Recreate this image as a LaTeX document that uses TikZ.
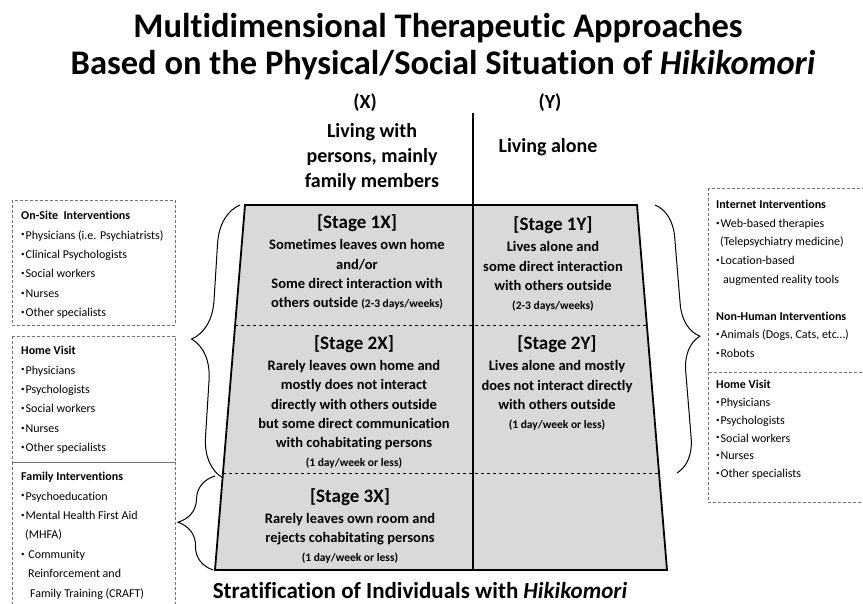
\documentclass[tikz,border=0pt]{standalone}
\usepackage{fontspec}
\setmainfont{Carlito}[Ligatures=NoCommon]
\usetikzlibrary{decorations.pathreplacing,calc}

\newcommand{\itm}{\raisebox{2.2pt}{\fontsize{7}{7}\selectfont\textbullet}\hspace{1pt}}
\newcommand{\stagehead}[1]{{\fontsize{19}{19.3}\selectfont[Stage #1]}\\[2pt]}
\newcommand{\smalltxt}[1]{{\fontsize{11.5}{19.3}\selectfont #1}}

\tikzset{
  title/.style={inner sep=0pt, anchor=base, font=\bfseries\fontsize{34.5}{40}\selectfont},
  colhead/.style={inner sep=0pt, align=center, font=\bfseries\fontsize{20}{25}\selectfont},
  celltext/.style={inner sep=0pt, align=center, font=\bfseries\fontsize{14.5}{19.3}\selectfont},
  listbox/.style={draw=black!55, dash pattern=on 3pt off 2pt, line width=0.6pt},
  listtext/.style={inner sep=0pt, anchor=north west, align=left, font=\fontsize{12}{19.4}\selectfont},
  bigbrace/.style={decorate, decoration={brace, amplitude=#1}, line width=1pt},
}

\begin{document}
\begin{tikzpicture}[x=1pt,y=-1pt]
\useasboundingbox (0,0) rectangle (863,604);

\node[title] (title1) at (438,38) {Multidimensional Therapeutic Approaches};
\node[title] (title2) at (443,75) {Based on the Physical/Social Situation of \textit{Hikikomori}};

\coordinate (tl) at (245,205);
\coordinate (tr) at (637,205);
\coordinate (bl) at (215,570);
\coordinate (br) at (667,570);
\coordinate (mt) at (473,113);
\coordinate (mb) at (473,570);

\fill[black!15] (tl) -- (tr) -- (br) -- (bl) -- cycle;
\draw[dashed, line width=0.7pt] ($(tl)!0.329!(bl)$) -- ($(tr)!0.329!(br)$);
\draw[dashed, line width=0.7pt] ($(tl)!0.734!(bl)$) -- ($(tr)!0.734!(br)$);
\draw[line width=1.8pt, line join=miter] (tl) -- (tr) -- (br) -- (bl) -- cycle;
\draw[line width=1.4pt] (mt) -- (mb);

\node[colhead] (xhead) at (365,103) {(X)};
\node[colhead] (xtext) at (372,157) {Living with\\persons, mainly\\family members};
\node[colhead] (yhead) at (550,103) {(Y)};
\node[colhead] (ytext) at (548,147) {Living alone};

\node[celltext] (s1x) at (357,262) {\stagehead{1X}Sometimes leaves own home\\and/or\\Some direct interaction with\\others outside \smalltxt{(2-3 days/weeks)}};
\node[celltext] (s1y) at (553,264) {\stagehead{1Y}Lives alone and\\some direct interaction\\with others outside\\\smalltxt{(2-3 days/weeks)}};
\node[celltext] (s2x) at (354,402) {\stagehead{2X}Rarely leaves own home and\\mostly does not interact\\directly with others outside\\but some direct communication\\with cohabitating persons\\\smalltxt{(1 day/week or less)}};
\node[celltext] (s2y) at (557,383) {\stagehead{2Y}Lives alone and mostly\\does not interact directly\\with others outside\\\smalltxt{(1 day/week or less)}};
\node[celltext] (s3x) at (350,526) {\stagehead{3X}Rarely leaves own room and\\rejects cohabitating persons\\\smalltxt{(1 day/week or less)}};

\node[inner sep=0pt, anchor=base, font=\bfseries\fontsize{23}{26}\selectfont] (foot) at (420,598) {Stratification of Individuals with \textit{Hikikomori}};

\draw[bigbrace=40] (223,478) -- node[pos=0.57] (lb1) {} (240,205);
\draw[bigbrace=36] (213,570) -- node[pos=0.585] (lb2) {} (215,476);
\draw[bigbrace=34] (655,205) -- node[pos=0.42] (rb1) {} (677,473);

\draw[listbox] (12,200) rectangle (175,325);
\draw[listbox] (12,336) rectangle (175,462);
\draw[listbox] (12,462) rectangle (175,612);
\draw[black!55, line width=0.6pt] (12,462) -- (175,462);
\draw[listbox] (708,188) rectangle (870,372);
\draw[listbox] (708,372) rectangle (870,502);

\node[listtext] (onsite) at (21,211) {\textbf{On-Site~ Interventions}\\\itm Physicians (i.e. Psychiatrists)\\\itm Clinical Psychologists\\\itm Social workers\\\itm Nurses\\\itm Other specialists};
\node[listtext] (homeL) at (21,346) {\textbf{Home Visit}\\\itm Physicians\\\itm Psychologists\\\itm Social workers\\\itm Nurses\\\itm Other specialists};
\node[listtext] (family) at (21,472) {\textbf{Family Interventions}\\\itm Psychoeducation\\\itm Mental Health First Aid\\\hspace*{4pt}(MHFA)\\\itm\ Community\\\hspace*{7pt}Reinforcement and\\\hspace*{9pt}Family Training (CRAFT)};
\node[listtext, font=\fontsize{12}{18.6}\selectfont] (internet) at (716,200) {\textbf{Internet Interventions}\\\itm Web-based therapies\\\hspace*{4pt}(Telepsychiatry medicine)\\\itm Location-based\\\hspace*{7pt}augmented reality tools\\[18.6pt]\textbf{Non-Human Interventions}\\\itm Animals (Dogs, Cats, etc\dots)\\\itm Robots};
\node[listtext, font=\fontsize{12}{17.8}\selectfont] (homeR) at (716,380) {\textbf{Home Visit}\\\itm Physicians\\\itm Psychologists\\\itm Social workers\\\itm Nurses\\\itm Other specialists};
\end{tikzpicture}
\end{document}
